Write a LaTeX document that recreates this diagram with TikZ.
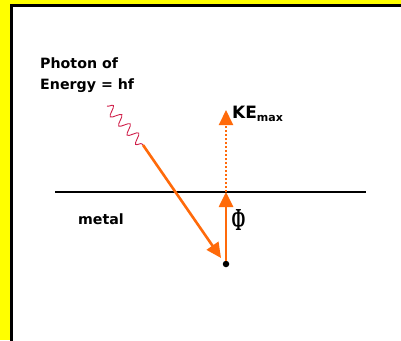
\documentclass[tikz,border=0pt]{standalone}
\usepackage{fontspec}
\setmainfont{DejaVu Sans}
\newfontfamily\phifont{Liberation Serif}
\usepackage{tikz}
\usetikzlibrary{arrows.meta,positioning,decorations.pathmorphing}
\definecolor{panel}{HTML}{FFFF00}
\definecolor{beam}{HTML}{FF6A0A}
\definecolor{wave}{HTML}{D0204A}
\begin{document}
\begin{tikzpicture}[x=1pt,y=-1pt,>={Triangle[length=15pt,width=14pt]},
 lbl/.style={inner sep=0pt,font=\bfseries\fontsize{14.2}{21}\selectfont,align=left},
 ray/.style={->,line width=2.6pt,color=beam},
 free/.style={->,line width=2pt,color=beam,dotted}]
 \useasboundingbox (0,0) rectangle (401,340);
 \clip (0,0) rectangle (401,340);
 \fill[panel] (0,0) rectangle (401,340);
 \draw[line width=3pt,fill=white] (11.5,5.5) rectangle (410,350);
 % surface of the metal
 \draw[line width=2pt] (55,192) coordinate (l) -- (366,192) coordinate (r);
 \node[lbl,anchor=base west] (m) at (78,224) {metal};
 \node[lbl,anchor=north west] (ph) at (40,58) {Photon of\\Energy = hf};
 % electron and its path out
 \node[circle,fill=black,inner sep=0pt,minimum size=6.5pt] (e) at (226,264) {};
 \coordinate (s) at (226,192);
 \coordinate (t) at (226,110);
 \coordinate (p0) at (107,106);
 \coordinate (p1) at (143,145);
 \draw[wave,line width=0.9pt,decorate,decoration={snake,amplitude=5pt,segment length=12.5pt}] (p0) -- (p1);
 \draw[ray] (p1) -- (221,258);
 \draw[ray] (e) -- (s);
 \draw[free] (s) -- (t);
 \node[inner sep=0pt,anchor=base west,font=\bfseries\fontsize{17}{17}\selectfont] (ke) at (232,118) {KE\raisebox{-3pt}{\fontsize{11}{11}\selectfont max}};
 \node[inner sep=0pt,xscale=0.52,font=\phifont\bfseries\fontsize{32}{32}\selectfont] (phi) at (238.5,220) {Φ};
\end{tikzpicture}
\end{document}
